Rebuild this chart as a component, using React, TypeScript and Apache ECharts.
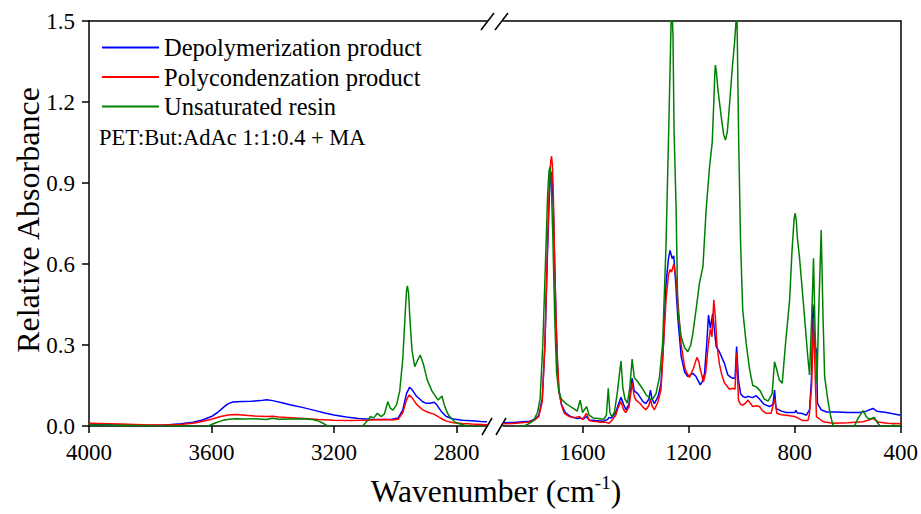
import React, { useEffect, useRef } from "react";
import * as echarts from "echarts";

const seriesNames = ["Depolymerization product", "Polycondenzation product", "Unsaturated resin"];
const seriesColors = ["#0000FF", "#FF0000", "#008000"];
const annotation = "PET:But:AdAc 1:1:0.4 + MA";
const leftTicks = [2800, 3200, 3600, 4000];
const rightTicks = [400, 800, 1200, 1600];
const yTicks = [0, 0.3, 0.6, 0.9, 1.2, 1.5];

// Left segment: 4000 - 2700 cm-1
const blueL = [[4000,0.006],[3900,0.004],[3800,0.003],[3750,0.004],[3700,0.008],[3660,0.014],[3630,0.022],[3600,0.035],[3580,0.05],[3560,0.07],[3545,0.083],[3530,0.089],[3500,0.091],[3470,0.092],[3440,0.094],[3420,0.097],[3400,0.094],[3370,0.086],[3340,0.078],[3300,0.068],[3260,0.057],[3230,0.048],[3200,0.041],[3160,0.033],[3120,0.028],[3080,0.025],[3040,0.024],[3010,0.025],[2990,0.03],[2975,0.06],[2963,0.12],[2953,0.143],[2945,0.135],[2930,0.11],[2910,0.09],[2898,0.084],[2885,0.084],[2873,0.088],[2865,0.08],[2850,0.055],[2833,0.035],[2810,0.026],[2780,0.021],[2750,0.019],[2720,0.017],[2700,0.016]];
const redL = [[4000,0.01],[3900,0.007],[3800,0.004],[3750,0.004],[3700,0.006],[3650,0.012],[3600,0.025],[3570,0.035],[3540,0.042],[3520,0.043],[3490,0.04],[3460,0.037],[3420,0.035],[3400,0.036],[3380,0.033],[3340,0.031],[3300,0.028],[3250,0.024],[3200,0.021],[3150,0.02],[3100,0.021],[3060,0.023],[3030,0.024],[3010,0.022],[2990,0.025],[2975,0.05],[2963,0.095],[2955,0.115],[2945,0.105],[2930,0.08],[2910,0.06],[2898,0.053],[2885,0.048],[2873,0.044],[2860,0.035],[2845,0.025],[2833,0.018],[2810,0.012],[2780,0.009],[2750,0.007],[2700,0.005]];
const greenL = [[4000,0.005],[3900,0.003],[3800,0.001],[3700,0.0],[3640,-0.005],[3610,0.0],[3590,0.01],[3565,0.02],[3543,0.025],[3520,0.027],[3490,0.026],[3460,0.027],[3420,0.024],[3400,0.029],[3380,0.025],[3340,0.026],[3300,0.027],[3270,0.024],[3250,0.018],[3235,0.01],[3220,0.0],[3200,-0.01],[3150,-0.01],[3120,-0.005],[3106,0.0],[3090,0.02],[3081,0.035],[3070,0.03],[3058,0.047],[3045,0.035],[3035,0.045],[3024,0.09],[3015,0.065],[3007,0.059],[2995,0.08],[2985,0.13],[2975,0.25],[2968,0.4],[2963,0.5],[2960,0.519],[2956,0.49],[2952,0.4],[2945,0.28],[2936,0.22],[2928,0.24],[2918,0.263],[2908,0.23],[2895,0.17],[2880,0.13],[2868,0.11],[2860,0.096],[2852,0.105],[2847,0.111],[2840,0.08],[2830,0.05],[2822,0.035],[2805,0.015],[2790,0.008],[2770,0.002],[2740,-0.005],[2700,-0.005]];

// Right segment: 1900 - 400 cm-1
const blueR = [[1900,0.012],[1850,0.014],[1800,0.018],[1780,0.025],[1765,0.04],[1752,0.1],[1742,0.3],[1732,0.65],[1725,0.86],[1720,0.93],[1717,0.94],[1714,0.91],[1710,0.8],[1704,0.55],[1697,0.28],[1690,0.14],[1680,0.08],[1665,0.05],[1645,0.035],[1620,0.028],[1609,0.03],[1598,0.025],[1585,0.035],[1575,0.022],[1550,0.02],[1520,0.018],[1505,0.025],[1500,0.032],[1490,0.03],[1475,0.05],[1465,0.08],[1455,0.106],[1445,0.08],[1437,0.06],[1425,0.08],[1413,0.177],[1405,0.13],[1392,0.12],[1372,0.09],[1361,0.083],[1350,0.1],[1344,0.133],[1338,0.1],[1329,0.083],[1315,0.11],[1304,0.158],[1295,0.3],[1285,0.53],[1276,0.62],[1270,0.65],[1262,0.62],[1256,0.63],[1248,0.52],[1241,0.405],[1228,0.257],[1215,0.2],[1203,0.183],[1192,0.19],[1184,0.195],[1172,0.183],[1156,0.152],[1148,0.165],[1140,0.195],[1132,0.3],[1125,0.411],[1118,0.362],[1109,0.417],[1102,0.35],[1096,0.294],[1084,0.275],[1065,0.232],[1052,0.189],[1040,0.18],[1033,0.177],[1025,0.177],[1019,0.294],[1012,0.17],[1004,0.12],[996,0.11],[985,0.105],[977,0.11],[960,0.105],[945,0.112],[933,0.1],[915,0.08],[895,0.072],[882,0.08],[876,0.133],[870,0.065],[850,0.055],[832,0.05],[800,0.05],[795,0.058],[790,0.048],[770,0.046],[756,0.04],[744,0.06],[737,0.17],[731,0.45],[725,0.3],[718,0.28],[714,0.084],[700,0.06],[680,0.052],[643,0.052],[600,0.05],[555,0.05],[530,0.055],[505,0.065],[490,0.055],[454,0.05],[430,0.045],[400,0.04]];
const redR = [[1900,0.008],[1850,0.01],[1800,0.015],[1780,0.022],[1765,0.035],[1752,0.09],[1742,0.3],[1732,0.68],[1725,0.9],[1720,0.98],[1717,1.0],[1714,0.97],[1710,0.85],[1705,0.6],[1700,0.4],[1694,0.23],[1688,0.12],[1677,0.07],[1669,0.047],[1650,0.035],[1631,0.03],[1612,0.035],[1600,0.025],[1585,0.047],[1575,0.02],[1562,0.018],[1530,0.014],[1512,0.014],[1500,0.01],[1490,0.02],[1475,0.04],[1465,0.07],[1455,0.09],[1445,0.06],[1437,0.05],[1425,0.07],[1413,0.16],[1405,0.11],[1398,0.096],[1385,0.085],[1372,0.07],[1361,0.06],[1350,0.075],[1344,0.1],[1338,0.075],[1329,0.06],[1315,0.09],[1304,0.136],[1295,0.3],[1285,0.47],[1276,0.56],[1270,0.58],[1264,0.57],[1256,0.6],[1248,0.55],[1241,0.47],[1228,0.3],[1215,0.22],[1209,0.2],[1197,0.18],[1182,0.213],[1169,0.254],[1162,0.24],[1156,0.21],[1144,0.164],[1135,0.2],[1127,0.29],[1118,0.36],[1112,0.33],[1105,0.467],[1099,0.4],[1093,0.3],[1084,0.23],[1075,0.19],[1065,0.16],[1046,0.136],[1033,0.14],[1025,0.136],[1019,0.27],[1012,0.096],[1004,0.08],[996,0.077],[985,0.085],[977,0.096],[968,0.085],[958,0.072],[945,0.075],[933,0.072],[920,0.055],[907,0.047],[889,0.047],[876,0.1],[867,0.047],[850,0.042],[832,0.04],[800,0.035],[785,0.028],[770,0.02],[750,0.02],[744,0.047],[736,0.15],[729,0.4],[723,0.2],[718,0.035],[705,0.025],[693,0.016],[655,0.01],[600,0.012],[542,0.016],[520,0.022],[505,0.028],[485,0.015],[450,0.01],[400,0.008]];
const greenR = [[1900,-0.01],[1850,-0.005],[1820,0.0],[1800,0.01],[1785,0.02],[1770,0.05],[1760,0.1],[1750,0.3],[1740,0.6],[1732,0.85],[1727,0.94],[1723,0.96],[1719,0.93],[1712,0.7],[1705,0.4],[1698,0.2],[1690,0.13],[1680,0.1],[1665,0.085],[1650,0.075],[1635,0.065],[1620,0.055],[1609,0.096],[1600,0.05],[1585,0.072],[1575,0.04],[1560,0.03],[1540,0.028],[1520,0.025],[1510,0.04],[1503,0.14],[1497,0.05],[1490,0.035],[1480,0.05],[1468,0.13],[1460,0.2],[1455,0.241],[1448,0.14],[1440,0.1],[1431,0.085],[1422,0.14],[1413,0.248],[1405,0.18],[1392,0.164],[1375,0.14],[1360,0.115],[1354,0.11],[1344,0.1],[1335,0.1],[1323,0.12],[1310,0.18],[1298,0.307],[1285,0.677],[1275,1.1],[1266,1.5],[1263,1.55],[1259,1.45],[1255,1.1],[1247,0.8],[1241,0.43],[1228,0.33],[1215,0.29],[1203,0.275],[1192,0.3],[1184,0.343],[1172,0.43],[1159,0.53],[1146,0.59],[1134,0.8],[1121,0.96],[1111,1.05],[1105,1.2],[1101,1.31],[1099,1.337],[1095,1.31],[1090,1.25],[1075,1.13],[1068,1.08],[1061,1.059],[1054,1.09],[1045,1.2],[1035,1.33],[1027,1.417],[1021,1.5],[1018,1.55],[1011,1.047],[1004,0.677],[996,0.43],[983,0.306],[970,0.21],[958,0.15],[945,0.145],[930,0.13],[915,0.1],[900,0.092],[885,0.12],[876,0.238],[868,0.21],[858,0.17],[847,0.158],[835,0.3],[819,0.467],[810,0.65],[802,0.77],[798,0.788],[794,0.76],[790,0.7],[781,0.615],[763,0.405],[750,0.25],[744,0.189],[736,0.4],[729,0.621],[723,0.35],[716,0.158],[710,0.4],[700,0.726],[693,0.4],[687,0.183],[675,0.096],[665,0.04],[656,0.004],[640,-0.005],[600,-0.005],[575,0.0],[560,0.03],[542,0.057],[530,0.035],[520,0.025],[500,0.032],[490,0.015],[478,0.0],[450,-0.003],[430,0.003],[400,0.0]];

const FONT = "'Liberation Serif', 'Times New Roman', Times, serif";

export default function App() {
  const ref = useRef<HTMLDivElement>(null);
  useEffect(() => {
    if (!ref.current) return;
    const chart = echarts.init(ref.current, null, { renderer: "svg" });
    const axisLine = { show: true, onZero: false, lineStyle: { color: "#000", width: 1.5 } };
    const labelStyle = { color: "#000", fontSize: 23, fontFamily: FONT };
    const xBottom = (grid: number, min: number, max: number, ticks: number[]) => ({
      type: "value", gridIndex: grid, min, max, inverse: true, position: "bottom",
      axisLine, splitLine: { show: false },
      axisTick: { show: true, length: 7, inside: false, lineStyle: { color: "#000", width: 1.5 }, customValues: ticks },
      axisLabel: { ...labelStyle, margin: 15, customValues: ticks, formatter: (v: number) => String(v) },
    });
    const xTop = (grid: number, min: number, max: number) => ({
      type: "value", gridIndex: grid, min, max, inverse: true, position: "top",
      axisLine, splitLine: { show: false }, axisTick: { show: false }, axisLabel: { show: false },
    });
    const mk = (i: number, data: number[][], xi: number, yi: number) => ({
      type: "line", name: seriesNames[i], data, xAxisIndex: xi, yAxisIndex: yi,
      showSymbol: false, symbol: "none", clip: true, smooth: false,
      lineStyle: { color: seriesColors[i], width: 1.5 }, itemStyle: { color: seriesColors[i] },
    });
    chart.setOption({
      animation: false,
      backgroundColor: "#fff",
      textStyle: { fontFamily: FONT },
      grid: [
        { left: 89, top: 21, width: 398, height: 405 },
        { left: 503, top: 21, width: 398, height: 405 },
      ],
      xAxis: [
        xBottom(0, 2700, 4000, leftTicks),
        xTop(0, 2700, 4000),
        xBottom(1, 400, 1900, rightTicks),
        xTop(1, 400, 1900),
      ],
      yAxis: [
        {
          type: "value", gridIndex: 0, min: 0, max: 1.5, interval: 0.3, position: "left",
          axisLine, splitLine: { show: false },
          axisTick: { show: true, length: 7, lineStyle: { color: "#000", width: 1.5 }, customValues: yTicks },
          axisLabel: { ...labelStyle, margin: 14, customValues: yTicks, formatter: (v: number) => v.toFixed(1) },
        },
        {
          type: "value", gridIndex: 1, min: 0, max: 1.5, position: "right",
          axisLine, splitLine: { show: false }, axisTick: { show: false }, axisLabel: { show: false },
        },
      ],
      legend: {
        data: seriesNames, orient: "vertical", left: 97, top: 30,
        icon: "rect", itemWidth: 57, itemHeight: 2, itemGap: 4.5,
        textStyle: { color: "#000", fontSize: 24.5, fontFamily: FONT, lineHeight: 22 },
      },
      series: [
        mk(0, blueL, 0, 0), mk(1, redL, 0, 0), mk(2, greenL, 0, 0),
        mk(0, blueR, 2, 1), mk(1, redR, 2, 1), mk(2, greenR, 2, 1),
      ],
      graphic: [
        { type: "text", left: 99, top: 126, style: { text: annotation, fontSize: 22.5, fontFamily: FONT, fill: "#000" } },
        { type: "text", x: 28, y: 220, rotation: Math.PI / 2,
          style: { text: "Relative Absorbance", fontSize: 32, fontFamily: FONT, fill: "#000", align: "center", verticalAlign: "middle" } },
        { type: "text", x: 496, y: 491,
          style: {
            text: "{a|Wavenumber (cm}{s|-1}{a|)}", align: "center", verticalAlign: "middle",
            rich: {
              a: { fontSize: 31.5, fontFamily: FONT, fill: "#000", color: "#000" },
              s: { fontSize: 19, fontFamily: FONT, fill: "#000", color: "#000", padding: [0, 0, 17, 0] },
            },
          } },
        { type: "line", shape: { x1: 482, y1: 435, x2: 492, y2: 418 }, style: { stroke: "#000", lineWidth: 1.5 } },
        { type: "line", shape: { x1: 496, y1: 435, x2: 506, y2: 418 }, style: { stroke: "#000", lineWidth: 1.5 } },
        { type: "line", shape: { x1: 481, y1: 30, x2: 494, y2: 13 }, style: { stroke: "#000", lineWidth: 1.5 } },
        { type: "line", shape: { x1: 495, y1: 30, x2: 508, y2: 13 }, style: { stroke: "#000", lineWidth: 1.5 } },
      ],
    });
    return () => chart.dispose();
  }, []);
  return <div ref={ref} style={{ width: 921, height: 514, position: "absolute", left: 0, top: 0 }} />;
}
